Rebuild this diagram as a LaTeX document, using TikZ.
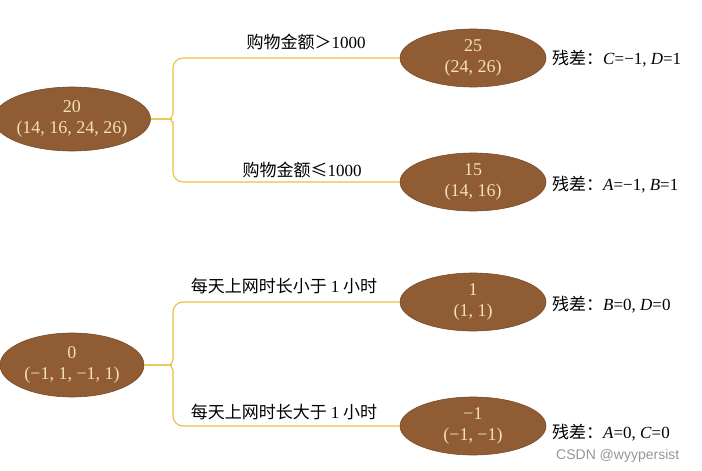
\documentclass[tikz,border=0pt]{standalone}
\usepackage{fontspec}
\setmainfont{Liberation Serif}
\newfontfamily\cjk{Noto Sans CJK SC}
\newfontfamily\wmfont{Liberation Sans}
\usetikzlibrary{shapes.geometric}
\definecolor{nodebrown}{RGB}{143,92,52}
\definecolor{nodeedge}{RGB}{120,75,40}
\definecolor{nodetext}{RGB}{244,224,186}
\definecolor{linegold}{RGB}{232,192,64}
\definecolor{wmgray}{RGB}{150,150,150}
\tikzset{
  leafnode/.style={ellipse,fill=nodebrown,draw=nodeedge,line width=0.6pt,minimum width=146pt,minimum height=58pt,inner sep=0pt,align=center,text=nodetext,font=\fontsize{18}{21}\selectfont},
  rootnode/.style={leafnode,minimum width=144pt,minimum height=64pt},
  conn/.style={draw=linegold,line width=1.1pt,rounded corners=10pt},
  cond/.style={font=\fontsize{17}{20}\selectfont\cjk,inner sep=0pt},
  resid/.style={font=\fontsize{17}{20}\selectfont,anchor=west,inner sep=0pt},
}
\begin{document}
\begin{tikzpicture}[x=1pt,y=-1pt]
\useasboundingbox (0,0) rectangle (702,471);
% tree 1
\node[rootnode] (r1) at (72,119) {20\\(14, 16, 24, 26)};
\node[leafnode] (a1) at (473,58) {25\\(24, 26)};
\node[leafnode] (a2) at (473,182) {15\\(14, 16)};
\coordinate (b1t) at (173,104);
\coordinate (b1b) at (173,132);
\draw[conn] (r1.east) -- (161,119) .. controls (170,119) and (173,114) .. (b1t) |- (a1.west);
\draw[conn] (r1.east) -- (161,119) .. controls (170,119) and (173,124) .. (b1b) |- (a2.west);
\node[cond] (l1) at (306,42) {购物金额＞{\rmfamily 1000}};
\node[cond] (l2) at (302,170) {购物金额≤{\rmfamily 1000}};
\node[resid] (s1) at (552,59) {{\cjk 残差：}\textit{C}=−1, \textit{D}=1};
\node[resid] (s2) at (552,185) {{\cjk 残差：}\textit{A}=−1, \textit{B}=1};
% tree 2
\node[rootnode] (r2) at (72,365) {0\\(−1, 1, −1, 1)};
\node[leafnode] (a3) at (473,302) {1\\(1, 1)};
\node[leafnode] (a4) at (473,426) {−1\\(−1, −1)};
\coordinate (b2t) at (173,350);
\coordinate (b2b) at (173,380);
\draw[conn] (r2.east) -- (161,365) .. controls (170,365) and (173,360) .. (b2t) |- (a3.west);
\draw[conn] (r2.east) -- (161,365) .. controls (170,365) and (173,370) .. (b2b) |- (a4.west);
\node[cond] (l3) at (284,286) {每天上网时长小于 {\rmfamily 1} 小时};
\node[cond] (l4) at (284,412) {每天上网时长大于 {\rmfamily 1} 小时};
\node[resid] (s3) at (552,305) {{\cjk 残差：}\textit{B}=0, \textit{D}=0};
\node[resid] (s4) at (552,433) {{\cjk 残差：}\textit{A}=0, \textit{C}=0};
\node[font=\fontsize{14}{16}\selectfont\wmfont,text=wmgray,anchor=west,inner sep=0pt] (wm) at (556,456) {CSDN @wyypersist};
\end{tikzpicture}
\end{document}
